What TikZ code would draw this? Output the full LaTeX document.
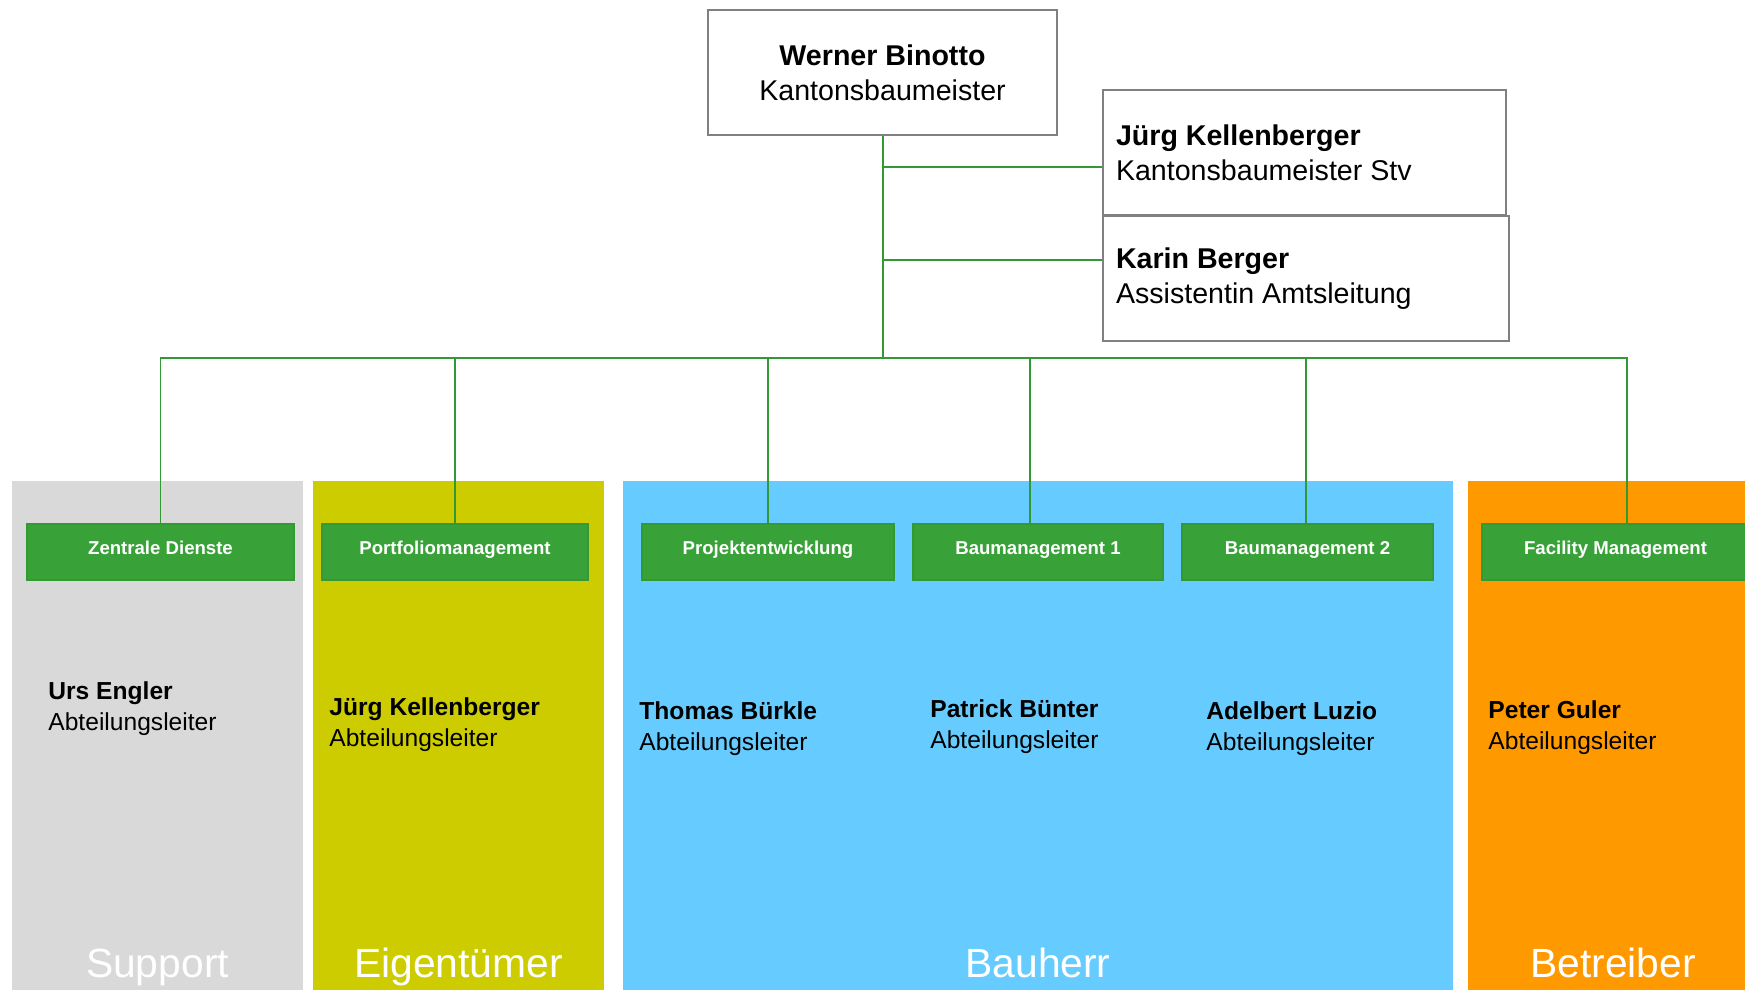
\documentclass[tikz,border=0pt]{standalone}
\usepackage{fontspec}
\setmainfont{Liberation Sans}
\tikzset{>=latex}
\definecolor{kbgreen}{RGB}{56,162,56}
\definecolor{kbline}{RGB}{51,153,51}
\definecolor{supportgray}{RGB}{217,217,217}
\definecolor{ownerolive}{RGB}{204,204,0}
\definecolor{builderblue}{RGB}{102,204,255}
\definecolor{operatororange}{RGB}{255,153,0}

\begin{document}
\begin{tikzpicture}[x=0.5pt,y=-0.5pt]
\useasboundingbox (0,0) rectangle (1745,990);

% columns
\fill[supportgray] (12,481) rectangle (303,990);
\fill[ownerolive] (313,481) rectangle (604,990);
\fill[builderblue] (623,481) rectangle (1453,990);
\fill[operatororange] (1468,481) rectangle (1758,990);

\begin{scope}[every node/.style={draw=gray,line width=0.75pt,fill=white,
    minimum height=62.5pt,inner xsep=6.5pt,font=\fontsize{14.3}{17.5}\selectfont}]
\node[align=center,minimum width=174.5pt] (binotto) at (882.5,72.5)
    {\textbf{Werner Binotto}\\Kantonsbaumeister};
\node[align=flush left,text width=188.5pt] (kellenberger) at (1304.5,152.5)
    {\textbf{Jürg Kellenberger}\\Kantonsbaumeister Stv};
\node[align=flush left,text width=190pt] (berger) at (1306,278.5)
    {\textbf{Karin Berger}\\Assistentin Amtsleitung};
\end{scope}

\coordinate (bus) at (882.5,358);
\coordinate (stv) at ([yshift=-7.25pt]kellenberger.west);
\coordinate (ass) at ([yshift=9.25pt]berger.west);

\begin{scope}[every path/.style={draw=kbline,line width=1pt}]
\draw (binotto.south) -- (bus);
\draw (binotto.south |- stv) -- (stv);
\draw (binotto.south |- ass) -- (ass);
\end{scope}

\begin{scope}[every edge/.style={draw=kbline,line width=0.6pt,
    to path={-| (\tikztotarget)}}]
    \path (bus) edge (160.5,524);
    \path (bus) edge (455,524);
    \path (bus) edge (768,524);
    \path (bus) edge (1030,524);
    \path (bus) edge (1306,524);
    \path (bus) edge (1627,524);
\end{scope}

\begin{scope}[every node/.style={fill=kbgreen,draw=kbline,line width=0.6pt,text=white,
    minimum height=28pt,text height=6.7pt,text depth=4.5pt,
    font=\bfseries\fontsize{9.3}{11}\selectfont}]
\node[minimum width=133.5pt] (zd) at (160.5,552) {Zentrale Dienste};
\node[minimum width=133pt] (pm) at (455,552) {Portfoliomanagement};
\node[minimum width=126pt] (pe) at (768,552) {Projektentwicklung};
\node[minimum width=125pt] (bm1) at (1038,552) {Baumanagement 1};
\node[minimum width=125.5pt] (bm2) at (1307.5,552) {Baumanagement 2};
\node[minimum width=133.5pt] (fm) at (1615.5,552) {Facility Management};
\end{scope}

\begin{scope}[every node/.style={align=left,anchor=west,inner sep=0pt,
    font=\fontsize{12.3}{15.5}\selectfont}]
\node (engler) at (48,708.5) {\textbf{Urs Engler}\\Abteilungsleiter};
\node (kellenbergerpm) at (329,724.5) {\textbf{Jürg Kellenberger}\\Abteilungsleiter};
\node (buerkle) at (639,729) {\textbf{Thomas Bürkle}\\Abteilungsleiter};
\node (buenter) at (930,726.5) {\textbf{Patrick Bünter}\\Abteilungsleiter};
\node (luzio) at (1206,729) {\textbf{Adelbert Luzio}\\Abteilungsleiter};
\node (guler) at (1488,728) {\textbf{Peter Guler}\\Abteilungsleiter};
\end{scope}

\begin{scope}[every node/.style={text=white,anchor=base,
    font=\fontsize{20.4}{24}\selectfont}]
\node (support) at (157.5,977) {Support};
\node (eigentuemer) at (458.5,977) {Eigentümer};
\node (bauherr) at (1038,977) {Bauherr};
\node (betreiber) at (1613,977) {Betreiber};
\end{scope}
\end{tikzpicture}
\end{document}
